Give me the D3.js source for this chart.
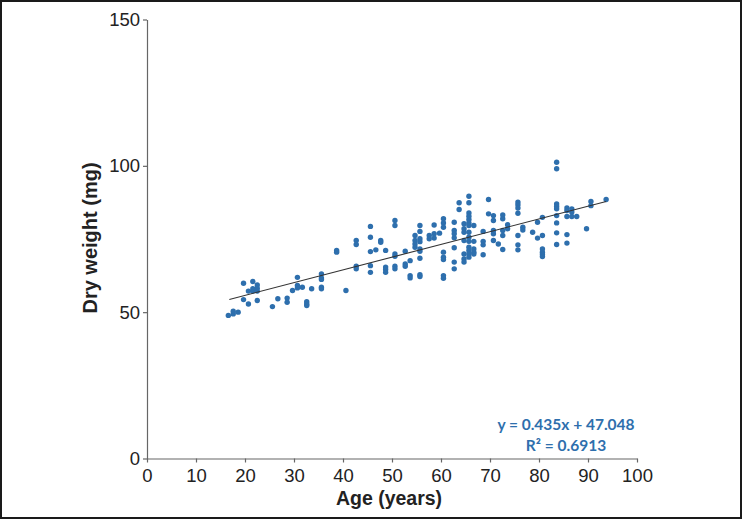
<!DOCTYPE html>
<html><head><meta charset="utf-8">
<script src="https://cdn.jsdelivr.net/npm/d3@7"></script>
<style>html,body{margin:0;padding:0;background:#fff}svg{display:block}</style>
</head><body>
<svg id="c" width="743" height="520"></svg>
<script>
const ages = [16.6,17.6,17.6,18.6,19.7,19.7,20.7,20.7,21.6,21.6,21.6,22.5,22.5,22.5,22.5,25.6,26.7,28.6,28.6,29.7,30.7,30.7,30.7,31.7,32.6,32.6,32.6,33.6,35.6,35.6,35.6,35.6,35.6,38.7,38.7,40.6,42.7,42.7,42.7,42.7,45.6,45.6,45.6,45.6,45.6,46.7,47.7,47.7,48.7,48.7,48.7,48.7,50.6,50.6,50.6,50.6,50.6,50.6,52.7,52.7,52.7,53.7,53.7,53.7,54.7,54.7,54.7,54.7,55.7,55.7,55.7,55.7,55.7,55.7,55.7,55.7,55.7,57.6,57.6,58.6,58.6,58.6,59.7,60.5,60.5,60.5,60.5,60.5,60.5,60.5,60.5,62.7,62.7,62.7,62.7,62.7,62.7,62.7,63.7,63.7,64.7,64.7,64.7,64.7,64.7,64.7,64.7,65.7,65.7,65.7,65.7,65.7,65.7,65.7,65.7,65.7,65.7,65.7,65.7,65.7,65.7,66.7,66.7,66.7,66.7,66.7,68.6,68.6,68.6,68.6,69.7,69.7,70.7,70.7,70.7,70.7,70.7,71.7,72.6,72.6,72.6,72.6,72.6,73.6,73.6,75.7,75.7,75.7,75.7,75.7,75.7,75.7,76.7,76.7,78.7,79.7,79.7,80.7,80.7,80.7,80.7,80.7,80.7,83.6,83.6,83.6,83.6,83.6,83.6,83.6,83.6,83.6,85.7,85.7,85.7,85.7,85.7,86.7,86.7,86.7,87.7,89.7,90.6,90.6,93.7];
const weights = [48.9,49.4,50.3,50.0,59.9,54.3,52.8,57.2,60.5,57.2,58.0,59.3,58.2,57.2,54.0,51.9,54.6,54.8,53.4,57.4,61.9,59.1,58.3,58.5,53.6,52.8,52.3,58.0,63.1,61.7,61.2,58.5,58.0,71.1,70.5,57.4,74.5,73.1,65.7,64.8,79.3,75.6,70.7,65.9,63.6,71.3,74.5,73.9,71.1,65.4,64.6,63.6,81.3,79.6,69.9,69.1,65.7,64.8,70.8,66.5,65.7,67.6,62.5,61.7,76.2,74.5,73.3,72.2,79.6,77.6,75.1,74.1,71.6,70.8,68.4,62.8,62.2,76.2,75.1,79.8,76.8,75.3,77.0,81.9,80.5,79.0,70.5,68.8,68.0,62.5,61.6,80.7,77.9,76.8,75.4,72.0,67.1,64.8,87.4,85.1,80.2,78.5,77.3,74.5,69.9,68.2,67.1,89.6,87.4,83.9,82.8,81.7,80.5,79.6,77.3,75.6,74.2,72.2,71.1,69.9,68.8,79.6,74.2,71.6,70.5,69.9,77.6,74.2,73.0,69.6,88.5,83.6,83.0,81.3,77.9,76.8,74.5,73.3,83.2,81.9,77.9,76.2,71.4,79.9,78.5,87.6,86.7,85.6,83.8,76.2,73.0,71.3,79.0,78.1,77.3,80.7,75.3,82.4,76.2,71.6,70.5,69.7,69.0,101.2,99.0,87.0,86.1,85.3,83.0,80.5,77.1,73.1,85.6,84.7,82.7,76.5,73.6,85.3,84.2,82.7,82.7,78.5,87.8,86.4,88.5];
const xTicks = [0,10,20,30,40,50,60,70,80,90,100];
const yTicks = [0,50,100,150];
const slope = 0.435, intercept = 47.048;
const trendRange = [16.8, 93.7];
const eqLines = ["y = 0.435x + 47.048", "R² = 0.6913"];
const xTitle = "Age (years)", yTitle = "Dry weight (mg)";

const svg = d3.select("#c");
const x = d3.scaleLinear().domain([0,100]).range([147,637]);
const y = d3.scaleLinear().domain([0,150]).range([458.5,19.5]);
const axisColor = "#666", textColor = "#222", blue = "#2e6fad";

svg.append("rect").attr("x",1).attr("y",1).attr("width",740).attr("height",517)
  .attr("fill","#fff").attr("stroke","#1a1a1a").attr("stroke-width",2);

const xa = svg.append("g").attr("transform",`translate(0,${y(0)})`)
  .call(d3.axisBottom(x).tickValues(xTicks).tickSize(4).tickPadding(6).tickSizeOuter(0));
const ya = svg.append("g").attr("transform",`translate(${x(0)},0)`)
  .call(d3.axisLeft(y).tickValues(yTicks).tickSize(4).tickPadding(3).tickSizeOuter(0));
[xa,ya].forEach(g=>{
  g.selectAll("path,line").attr("stroke",axisColor).attr("stroke-width",1.2);
  g.selectAll("text").attr("fill",textColor).style("font-family","Liberation Sans, Arial, sans-serif").style("font-size","18.5px");
});

svg.append("g").selectAll("circle").data(ages.map((a,i)=>[a,weights[i]])).join("circle")
  .attr("cx",d=>x(d[0])).attr("cy",d=>y(d[1])).attr("r",2.7).attr("fill",blue);

svg.append("line")
  .attr("x1",x(trendRange[0])).attr("y1",y(slope*trendRange[0]+intercept))
  .attr("x2",x(trendRange[1])).attr("y2",y(slope*trendRange[1]+intercept))
  .attr("stroke","#333").attr("stroke-width",1.1);

svg.append("text").attr("x",389).attr("y",505).attr("text-anchor","middle")
  .attr("fill",textColor).style("font-family","Liberation Sans, Arial, sans-serif")
  .style("font-weight","bold").style("font-size","19.5px").text(xTitle);
svg.append("text").attr("transform","translate(97,238) rotate(-90)").attr("text-anchor","middle")
  .attr("fill",textColor).style("font-family","Liberation Sans, Arial, sans-serif")
  .style("font-weight","bold").style("font-size","20px").text(yTitle);

svg.append("g").selectAll("text").data(eqLines).join("text")
  .attr("x",566).attr("y",(d,i)=>430+i*21).attr("text-anchor","middle")
  .attr("fill",blue).style("font-family","Lato, sans-serif").style("font-weight","bold")
  .style("font-size","15.5px").text(d=>d);
</script>
</body></html>
